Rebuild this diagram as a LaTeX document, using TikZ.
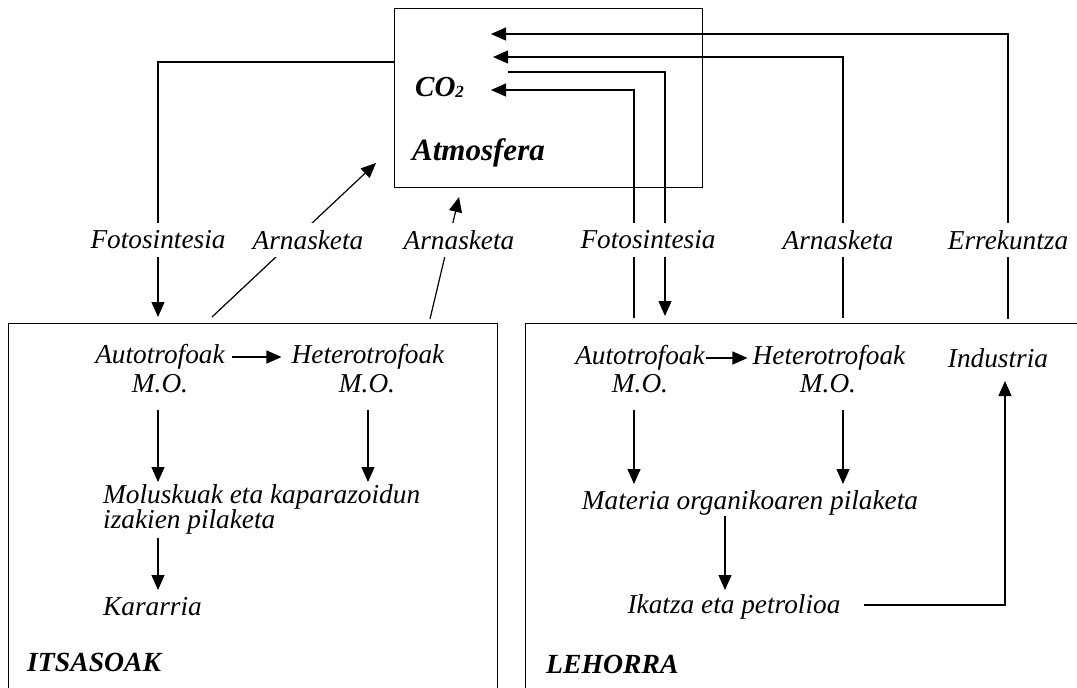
\documentclass[tikz,border=0pt]{standalone}
\usepackage{fontspec}
\setmainfont{Liberation Serif}
\usetikzlibrary{arrows.meta}
\begin{document}
\begin{tikzpicture}[x=1pt,y=-1pt,
  txt/.style={font=\itshape\fontsize{27.3}{24}\selectfont, inner sep=0pt},
  cut/.style={font=\itshape\fontsize{27.3}{24}\selectfont, fill=white, minimum height=34pt, inner xsep=3pt, inner ysep=0pt},
  ttl/.style={font=\bfseries\itshape\fontsize{27.7}{28}\selectfont, inner sep=0pt},
  bigttl/.style={font=\bfseries\itshape\fontsize{31}{31}\selectfont, inner sep=0pt},
  ln/.style={line width=1.2pt},
  arr/.style={ln, -{Triangle[length=15pt,width=13pt]}},
  box/.style={draw, line width=1.4pt, inner sep=0pt}]
\useasboundingbox (0,0) rectangle (1077,688);
\clip (0,0) rectangle (1077,688);

% compartments
\node[box, anchor=north west, minimum width=308pt, minimum height=179pt] (atm) at (394,8) {};
\node[box, anchor=north west, minimum width=489pt, minimum height=420pt] (sea) at (8,323) {};
\node[box, anchor=north west, minimum width=600pt, minimum height=420pt] (land) at (525,323) {};

% atmosphere
\node[ttl, anchor=west, font=\bfseries\itshape\fontsize{29}{29}\selectfont] (co2) at (415,87) {CO\raisebox{-1pt}{\fontsize{17}{17}\selectfont 2}};
\node[bigttl, anchor=west] (atmname) at (412,153) {Atmosfera};

% ends of the exchange lines
\coordinate (fsA) at (394,62);   \coordinate (fsB) at (158,317);
\coordinate (ar1A) at (212,317); \coordinate (ar1B) at (376,163);
\coordinate (ar2A) at (430,319); \coordinate (ar2B) at (459,197);
\coordinate (fsUp) at (634,318); \coordinate (tipC) at (491,90);
\coordinate (fsOut) at (508,72); \coordinate (fsDn) at (665,316);
\coordinate (arU) at (843,318);  \coordinate (tipB) at (493,57);
\coordinate (erU) at (1008,319); \coordinate (tipA) at (491,34);

\draw[arr] (fsA) -| (fsB);
\draw[arr] (ar1A) -- (ar1B);
\draw[arr] (ar2A) -- (ar2B);
\draw[arr] (fsUp) |- (tipC);
\draw[arr] (fsOut) -| (fsDn);
\draw[arr] (arU) |- (tipB);
\draw[arr] (erU) |- (tipA);

% process labels, cutting the lines
\node[cut] (fs1) at (158,240) {Fotosintesia};
\node[cut] (ar1) at (308,240) {Arnasketa};
\node[cut] (ar2) at (459,240) {Arnasketa};
\node[cut] (fs2) at (648,240) {Fotosintesia};
\node[cut] (ar3) at (838,240) {Arnasketa};
\node[cut] (er1) at (1008,240) {Errekuntza};

% seas
\node[txt] (au1) at (160,357) {Autotrofoak};
\node[txt] (mo1) at (160,384) {M.O.};
\node[txt] (he1) at (368,357) {Heterotrofoak};
\node[txt] (mo2) at (367,384) {M.O.};
\node[txt, anchor=west, align=left, font=\itshape\fontsize{27.3}{25}\selectfont] (mol) at (103,509) {Moluskuak eta kaparazoidun\\izakien pilaketa};
\node[txt, anchor=west] (kar) at (103,607) {Kararria};
\node[ttl, anchor=west] (its) at (27,662) {ITSASOAK};

\coordinate (s1a) at (158,410); \coordinate (s1b) at (158,482);
\coordinate (s2a) at (368,410); \coordinate (s2b) at (368,482);
\coordinate (s3a) at (158,538); \coordinate (s3b) at (158,590);
\draw[arr, shorten <=7pt, shorten >=10pt] (au1) -- (he1);
\draw[arr] (s1a) -- (s1b);
\draw[arr] (s2a) -- (s2b);
\draw[arr] (s3a) -- (s3b);

% land
\node[txt] (au2) at (640,358) {Autotrofoak};
\node[txt] (mo3) at (640,384) {M.O.};
\node[txt] (he2) at (829,358) {Heterotrofoak};
\node[txt] (mo4) at (828,384) {M.O.};
\node[txt] (ind) at (998,358) {Industria};
\node[txt] (mat) at (750,503) {Materia organikoaren pilaketa};
\node[txt] (ika) at (734,607) {Ikatza eta petrolioa};
\node[ttl, anchor=west] (leh) at (546,664) {LEHORRA};

\coordinate (l1a) at (634,410); \coordinate (l1b) at (634,484);
\coordinate (l2a) at (843,410); \coordinate (l2b) at (843,484);
\coordinate (l3a) at (725,516); \coordinate (l3b) at (725,590);
\coordinate (l4a) at (864,605); \coordinate (l4b) at (1005,381);
\draw[arr, shorten <=1pt, shorten >=5pt] (au2) -- (he2);
\draw[arr] (l1a) -- (l1b);
\draw[arr] (l2a) -- (l2b);
\draw[arr] (l3a) -- (l3b);
\draw[arr] (l4a) -| (l4b);
\end{tikzpicture}
\end{document}
